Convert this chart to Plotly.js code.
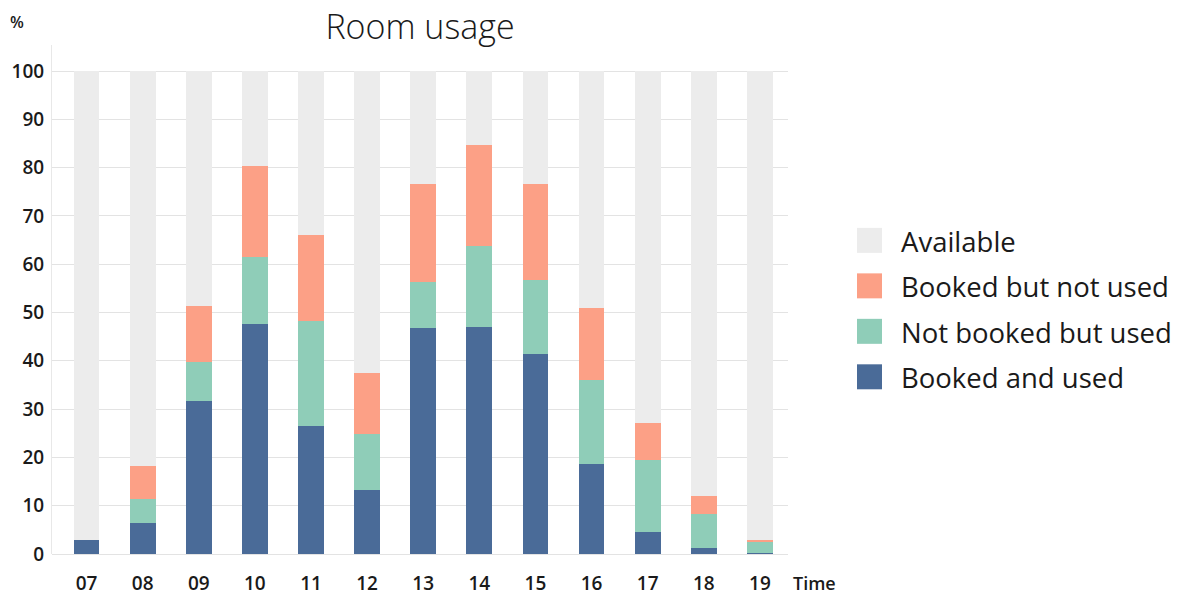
<!DOCTYPE html>
<html>
<head>
<meta charset="utf-8">
<script src="https://cdn.plot.ly/plotly-3.0.1.min.js"></script>
<style>html,body{margin:0;padding:0;background:#fff;}#chart{width:1177px;height:595px;}</style>
</head>
<body>
<div id="chart"></div>
<script>
const hours = ["07","08","09","10","11","12","13","14","15","16","17","18","19"];
const bookedAndUsed = [2.9, 6.5, 31.7, 47.7, 26.6, 13.3, 46.7, 47.0, 41.4, 18.6, 4.6, 1.3, 0.3];
const notBookedButUsed = [0, 4.8, 8.1, 13.7, 21.6, 11.5, 9.7, 16.7, 15.3, 17.5, 14.8, 7.0, 2.3];
const bookedNotUsed = [0, 7.0, 11.6, 19.0, 17.8, 12.6, 20.3, 21.0, 20.0, 14.9, 7.8, 3.7, 0.3];
const available = [97.1, 81.7, 48.6, 19.6, 34.0, 62.6, 23.3, 15.3, 23.3, 49.0, 72.8, 88.0, 97.1];
const yTicks = [0,10,20,30,40,50,60,70,80,90,100];

const seriesNames = ["Booked and used","Not booked but used","Booked but not used","Available"];
const seriesValues = [bookedAndUsed, notBookedButUsed, bookedNotUsed, available];
const seriesColors = ["#4a6b98","#8fcdb8","#fca086","#ececec"];

const FONT = "'Open Sans', 'Noto Sans', sans-serif";

const traces = seriesValues.map((vals, i) => ({
  type: "bar",
  x: hours,
  y: vals,
  name: seriesNames[i],
  marker: {color: seriesColors[i], line: {width: 0}},
  hoverinfo: "x+y+name",
  showlegend: false
}));

// custom legend (top item = Available)
const shapes = [];
const annotations = [];
const legTop = 228, legStep = 45.5, sq = 25, legX = 857;
for (let k = 0; k < 4; k++) {
  const idx = 3 - k;
  const y0 = legTop + k * legStep;
  shapes.push({type: "rect", xref: "paper", yref: "paper",
    x0: (legX - 52) / 736, x1: (legX + sq - 52) / 736,
    y0: (554.3 - y0) / 509.3, y1: (554.3 - y0 - sq) / 509.3,
    fillcolor: seriesColors[idx], line: {width: 0}});
  annotations.push({xref: "paper", yref: "paper",
    x: (899 - 52) / 736, y: (554.3 - y0 - sq / 2 - 1) / 509.3,
    xanchor: "left", yanchor: "middle", showarrow: false,
    text: seriesNames[idx], font: {family: FONT, size: 27.5, color: "#1a1a1a"}});
}
annotations.push({xref: "paper", yref: "paper", x: (815 - 52) / 736, y: (554.3 - 583) / 509.3,
  xanchor: "center", yanchor: "middle", showarrow: false, text: "Time",
  font: {family: FONT, size: 18, color: "#1a1a1a", weight: 600}});
annotations.push({xref: "paper", yref: "paper", x: (17 - 52) / 736, y: (554.3 - 22) / 509.3,
  xanchor: "center", yanchor: "middle", showarrow: false, text: "%",
  font: {family: FONT, size: 16, color: "#1a1a1a", weight: 600}});

const layout = {
  width: 1177, height: 595,
  margin: {l: 52, r: 389, t: 45, b: 41, pad: 0},
  paper_bgcolor: "#fff", plot_bgcolor: "#fff",
  barmode: "stack",
  bargap: 0.54,
  showlegend: false,
  title: {text: "Room usage", x: 0.5, xref: "paper", y: 0.955, yref: "container", yanchor: "middle",
    font: {family: FONT, size: 34, color: "#1a1a1a", weight: 300}},
  font: {family: FONT, color: "#1a1a1a"},
  xaxis: {type: "category", range: [-0.615, 12.5], showgrid: false, zeroline: false,
    showline: false, ticks: "", tickfont: {family: FONT, size: 19, color: "#1a1a1a", weight: 600},
    ticklabelstandoff: 16, fixedrange: true},
  yaxis: {range: [0, 105.4], tickvals: yTicks, ticktext: yTicks.map(String),
    showgrid: true, gridcolor: "#e3e3e3", gridwidth: 1, zeroline: true, zerolinecolor: "#e3e3e3",
    showline: true, linecolor: "#e8e8e8", linewidth: 1, ticks: "",
    tickfont: {family: FONT, size: 19, color: "#1a1a1a", weight: 600}, ticklabelstandoff: 3, fixedrange: true},
  shapes: shapes,
  annotations: annotations
};

Plotly.newPlot("chart", traces, layout, {displayModeBar: false, staticPlot: false});
</script>
</body>
</html>
